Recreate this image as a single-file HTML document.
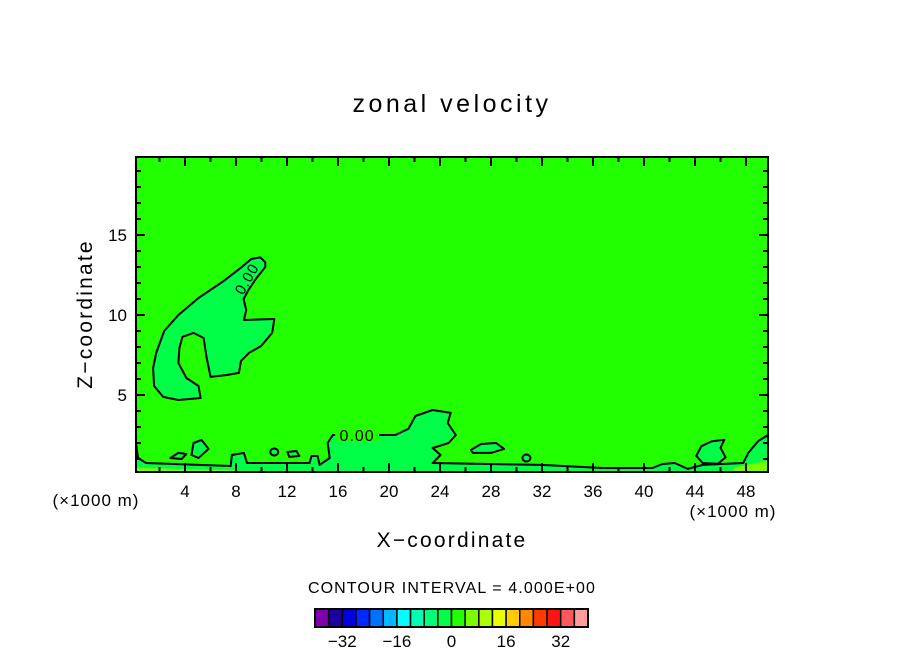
<!DOCTYPE html>
<html><head><meta charset="utf-8"><style>
html,body{margin:0;padding:0;background:#fff;}
svg{display:block;font-family:"Liberation Sans",sans-serif;}
</style></head><body>
<svg id="chart" width="904" height="654" viewBox="0 0 904 654" xmlns="http://www.w3.org/2000/svg">
<text x="452" y="112" text-anchor="middle" font-size="25" letter-spacing="3.5">zonal velocity</text>
<g id="plot"></g>
<text transform="translate(92,314) rotate(-90)" text-anchor="middle" font-size="21" letter-spacing="2.2">Z−coordinate</text>
<text x="452" y="547" text-anchor="middle" font-size="21" letter-spacing="2.2">X−coordinate</text>
<text x="96" y="506" text-anchor="middle" font-size="17" letter-spacing="1">(×1000 m)</text>
<text x="733" y="517" text-anchor="middle" font-size="17" letter-spacing="1">(×1000 m)</text>
<text x="452" y="593" text-anchor="middle" font-size="16" letter-spacing="1.1">CONTOUR INTERVAL = 4.000E+00</text>
<g id="cbar"></g>
</svg>
<script>
const xTicks=[4,8,12,16,20,24,28,32,36,40,44,48];
const yTicks=[5,10,15];
const cbarLevels=[-40,-36,-32,-28,-24,-20,-16,-12,-8,-4,0,4,8,12,16,20,24,28,32,36,40];
const cbarColors=["#7f00aa","#1e00a0","#0000e0","#0028ff","#0070ff","#00b8ff","#00ffff","#00ffb4","#00ff78","#00ff46","#22ff00","#78ff00","#aaff00","#e8ff00","#ffcc00","#ff8800","#ff3c00","#ff1414","#ff5a5a","#ff9c9c"];
const cbarLabels=[-32,-16,0,16,32];
const upperBlob=[[10.3,13.3],[10.3,13.0],[9.6,12.3],[9.0,11.6],[8.6,11.0],[8.8,10.3],[8.62,9.69],[11.0,9.75],[10.84,8.88],[9.97,8.06],[9.02,7.63],[8.39,7.13],[8.23,6.38],[7.28,6.25],[6.01,6.13],[5.7,7.31],[5.46,8.56],[4.67,8.88],[3.8,8.63],[3.56,7.94],[3.48,7.0],[4.11,6.06],[5.06,5.56],[5.22,4.81],[3.48,4.69],[2.29,4.88],[1.58,5.56],[1.5,6.69],[1.74,7.63],[2.37,9.0],[3.48,10.0],[5.06,11.06],[7.04,12.13],[8.3,12.9],[9.2,13.5],[9.9,13.6]];
const bottomBand=[[0,2.0],[0.32,1.06],[0.95,0.75],[7.59,0.56],[7.67,1.25],[8.62,1.38],[8.86,0.75],[13.77,0.75],[13.92,1.19],[14.4,1.19],[14.56,0.63],[15.35,1.06],[15.19,2.0],[15.59,2.5],[20.49,2.5],[21.52,2.88],[22.07,3.69],[23.42,4.06],[24.84,3.88],[24.6,3.25],[25.24,2.5],[24.68,2.0],[23.42,1.69],[24.05,1.25],[23.42,0.75],[31.96,0.63],[36.71,0.44],[40.66,0.44],[41.46,0.69],[42.41,0.75],[43.43,0.38],[44.62,0.63],[47.78,0.75],[48.18,1.38],[48.97,2.13],[50,2.5],[50,0],[0,0]];
const rightBlob=[[44.1,1.2],[44.5,1.8],[45.3,2.1],[46.3,2.2],[46.0,1.7],[46.4,1.1],[45.8,0.7],[44.6,0.75]];
const blobA=[[2.85,1.06],[3.48,1.38],[4.11,1.31],[3.73,1.0]];
const blobB=[[4.67,2.0],[5.3,2.19],[5.85,1.63],[5.06,1.06],[4.51,1.25]];
const blobC=[[12.03,1.44],[12.74,1.5],[12.97,1.19],[12.18,1.13]];
const blobD=[[26.42,1.56],[27.22,1.94],[28.4,2.0],[29.03,1.63],[28.0,1.38],[26.58,1.38]];
const smallRings=[[11.0,1.44],[30.78,1.06]];
const lowBandL=[[0,0.45],[8,0.3],[8,0],[0,0]];
const lowBandR=[[47,0.45],[50,0.9],[50,0],[47,0]];
const labelZero=[[17.5,2.5],[9.2,12.1]];

const NS="http://www.w3.org/2000/svg";
const L=136,R=768,T=157,B=472;
function sx(v){return 134+12.75*v;}
function sy(v){return 475-16*v;}
function el(tag,attrs,parent){const e=document.createElementNS(NS,tag);for(const k in attrs)e.setAttribute(k,attrs[k]);parent.appendChild(e);return e;}
function pts(a){return a.map(p=>Math.min(R,Math.max(L,sx(p[0]))).toFixed(1)+","+Math.min(B,Math.max(T,sy(p[1]))).toFixed(1)).join(" ");}
const plot=document.getElementById('plot');
let bg=el('rect',{x:L,y:T,width:R-L,height:B-T,fill:"#22ff00"},plot);


function poly(a,fill,name,stroke){const p=el('polygon',{points:pts(a),fill:fill,stroke:stroke?"#000":"none","stroke-width":2,"stroke-linejoin":"round"},plot);

return p;}
poly(bottomBand,"#00ff46","contour-bottom-band",true);
poly(lowBandL,"#78ff00","contour-low-left",false);
poly(lowBandR,"#78ff00","contour-low-right",false);
poly(upperBlob,"#00ff46","contour-upper-blob",true);
poly(rightBlob,"#00ff46","contour-right-blob",true);
poly(blobA,"#00ff46","contour-blob-a",true);
poly(blobB,"#00ff46","contour-blob-b",true);
poly(blobC,"#00ff46","contour-blob-c",true);
poly(blobD,"#00ff46","contour-blob-d",true);
smallRings.forEach(r=>{const c=el('ellipse',{cx:sx(r[0]),cy:sy(r[1]),rx:4,ry:3.5,fill:"#00ff46",stroke:"#000","stroke-width":2},plot);

});
let lb=el('rect',{x:sx(labelZero[0][0])-22,y:sy(labelZero[0][1])-9,width:44,height:16,fill:"#22ff00"},plot);


let lt=el('text',{x:sx(labelZero[0][0]),y:sy(labelZero[0][1])+6,"text-anchor":"middle","font-size":16,"letter-spacing":1},plot);lt.textContent="0.00";


let lt2=el('text',{x:0,y:0,"text-anchor":"middle","font-size":15,"letter-spacing":1,transform:`translate(${sx(labelZero[1][0])},${sy(labelZero[1][1])}) rotate(-60)`},plot);lt2.textContent="0.00";


let fr=el('rect',{x:L,y:T,width:R-L,height:B-T,fill:"none",stroke:"#000","stroke-width":2},plot);


for(let v=2;v<=48;v+=2){const major=xTicks.includes(v);const x=sx(v);const len=major?9:5;
 let t1=el('line',{x1:x,x2:x,y1:B,y2:B-len,stroke:"#000","stroke-width":2},plot);
 
 
 let t2=el('line',{x1:x,x2:x,y1:T,y2:T+len,stroke:"#000","stroke-width":2},plot);
 
 }
xTicks.forEach(v=>{const t=el('text',{x:sx(v),y:497,"text-anchor":"middle","font-size":17},plot);t.textContent=v;
 
 });
for(let v=1;v<=19;v++){const major=yTicks.includes(v);const y=sy(v);const len=major?9:5;
 let t1=el('line',{x1:L,x2:L+len,y1:y,y2:y,stroke:"#000","stroke-width":2},plot);
 
 
 let t2=el('line',{x1:R,x2:R-len,y1:y,y2:y,stroke:"#000","stroke-width":2},plot);
 
 }
yTicks.forEach(v=>{const t=el('text',{x:127,y:sy(v)+6,"text-anchor":"end","font-size":17},plot);t.textContent=v;
 
 });
const cb=document.getElementById('cbar');
const c0=315,cw=(588-315)/cbarColors.length;
function cx(level){return c0+(level-cbarLevels[0])/(cbarLevels[1]-cbarLevels[0])*cw;}
cbarColors.forEach((c,i)=>{const r=el('rect',{x:cx(cbarLevels[i]),y:609,width:cw,height:18,fill:c,stroke:"#000","stroke-width":1.5},cb);
 
 });
let cbf=el('rect',{x:c0,y:609,width:588-c0,height:18,fill:"none",stroke:"#000","stroke-width":2},cb);


cbarLabels.forEach(v=>{const t=el('text',{x:cx(v),y:647,"text-anchor":"middle","font-size":17},cb);t.textContent=v<0?"−"+Math.abs(v):v;
 
 });
</script>
</body></html>
